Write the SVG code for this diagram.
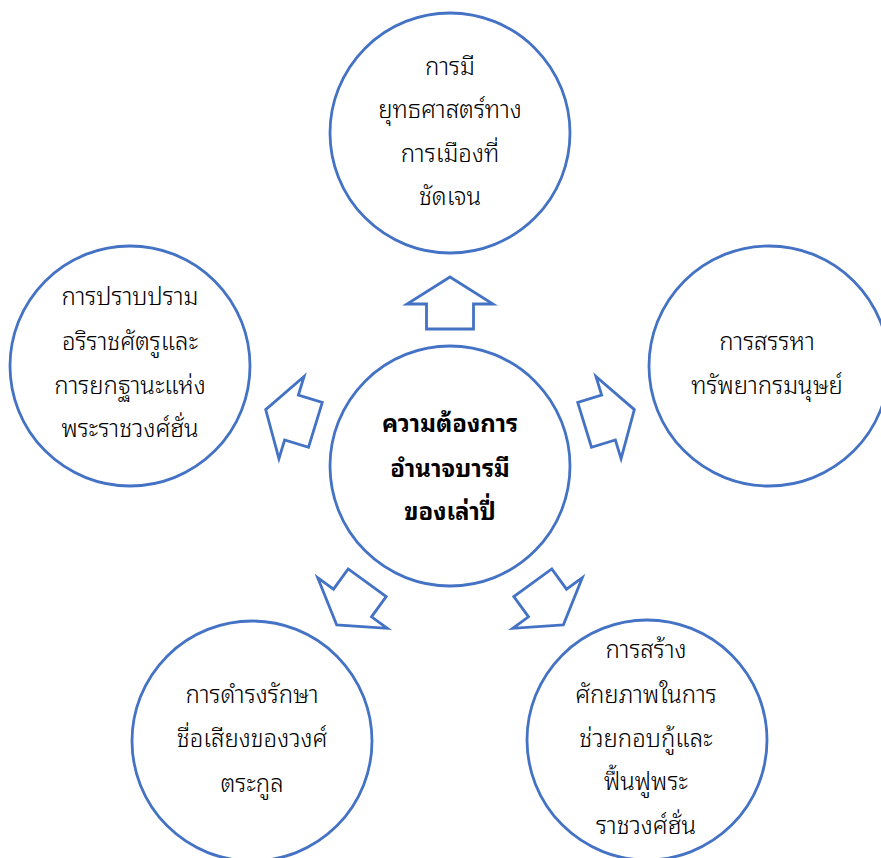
<svg xmlns="http://www.w3.org/2000/svg" width="881" height="858" viewBox="0 0 881 858">
<style>
.c{fill:#fff;stroke:#4472C4;stroke-width:2.8}
.a{fill:#fff;stroke:#4472C4;stroke-width:2.8;stroke-linejoin:miter}
.t{font-family:"Noto Sans Thai Looped","Noto Sans Thai","Leelawadee UI",Tahoma,"Noto Sans","DejaVu Sans",sans-serif;font-size:24px;font-weight:300;fill:#000;text-anchor:middle}
.b{font-weight:bold}
</style>
<defs>
<polygon id="arr" points="0,-27 43,0 23.5,0 23.5,25 -23.5,25 -23.5,0 -43,0"/>
</defs>
<rect width="881" height="858" fill="#fff"/>
<g id="connectors">
<use href="#arr" class="a" transform="translate(450,304)"/>
<use href="#arr" class="a" transform="translate(291.5,417.5) rotate(-73)"/>
<use href="#arr" class="a" transform="translate(608.5,417.5) rotate(73)"/>
<use href="#arr" class="a" transform="translate(352.5,603) rotate(-144)"/>
<use href="#arr" class="a" transform="translate(547.5,603) rotate(144)"/>
</g>
<g id="center">
<circle class="c" cx="450" cy="466" r="120"/>
<text class="t b" x="450" y="432">ความต้องการ</text>
<text class="t b" x="450" y="477">อำนาจบารมี</text>
<text class="t b" x="450" y="520">ของเล่าปี่</text>
</g>
<g id="top">
<circle class="c" cx="450" cy="133" r="120"/>
<text class="t" x="450" y="75">การมี</text>
<text class="t" x="450" y="118">ยุทธศาสตร์ทาง</text>
<text class="t" x="450" y="162">การเมืองที่</text>
<text class="t" x="450" y="205">ชัดเจน</text>
</g>
<g id="left">
<circle class="c" cx="130" cy="366" r="120"/>
<text class="t" x="130" y="305">การปราบปราม</text>
<text class="t" x="130" y="350">อริราชศัตรูและ</text>
<text class="t" x="130" y="394">การยกฐานะแห่ง</text>
<text class="t" x="130" y="437">พระราชวงศ์ฮั่น</text>
</g>
<g id="right">
<circle class="c" cx="769" cy="366" r="120"/>
<text class="t" x="767" y="350">การสรรหา</text>
<text class="t" x="767" y="394">ทรัพยากรมนุษย์</text>
</g>
<g id="bottom-left">
<circle class="c" cx="252" cy="741" r="120"/>
<text class="t" x="252" y="703">การดำรงรักษา</text>
<text class="t" x="252" y="747">ชื่อเสียงของวงศ์</text>
<text class="t" x="252" y="792">ตระกูล</text>
</g>
<g id="bottom-right">
<circle class="c" cx="647" cy="740" r="120"/>
<text class="t" x="646" y="658">การสร้าง</text>
<text class="t" x="646" y="703">ศักยภาพในการ</text>
<text class="t" x="646" y="747">ช่วยกอบกู้และ</text>
<text class="t" x="646" y="790">ฟื้นฟูพระ</text>
<text class="t" x="646" y="834">ราชวงศ์ฮั่น</text>
</g>
</svg>
